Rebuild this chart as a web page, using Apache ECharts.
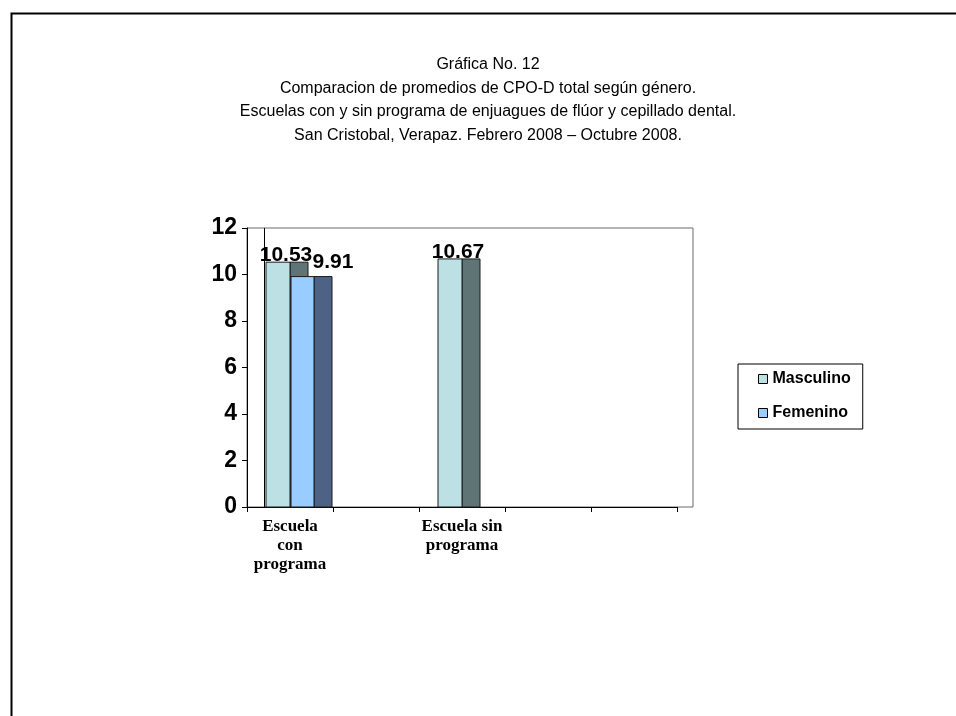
<!DOCTYPE html>
<html>
<head>
<meta charset="utf-8">
<script src="https://cdn.jsdelivr.net/npm/echarts@6/dist/echarts.min.js"></script>
<style>
  html, body { margin: 0; padding: 0; background: #fff; }
  #chart { width: 956px; height: 716px; }
</style>
</head>
<body>
<div id="chart"></div>
<script>
// Category labels (line breaks as printed under the axis)
const categories = ['Escuela\ncon\nprograma', '', 'Escuela sin\nprograma', '', ''];
// Average CPO-D per gender and school
const masculino = [10.53, null, 10.67, null, null];
const femenino = [9.91, null, null, null, null];
// Value axis ticks
const yTicks = { min: 0, max: 12, step: 2 };

const SANS = "'Liberation Sans', Arial, sans-serif";
const SERIF = "'Liberation Serif', 'Times New Roman', serif";

// Each gender is drawn as a flat bar with a darker "depth" face to its right.
const looks = {
  Masculino: { front: '#BCE0E3', side: '#5F7474', start: -24 / 86, fw: 24 / 86, sw: 18 / 86, lx: -4 / 86, ly: 4 },
  Femenino:  { front: '#99CCFF', side: '#4D6284', start: 1 / 86, fw: 23 / 86, sw: 18 / 86, lx: 43 / 86, ly: -4 }
};

function toPoints(arr) {
  const out = [];
  arr.forEach(function (v, i) { if (v != null) out.push([i, v]); });
  return out;
}

function renderer(look) {
  return function (params, api) {
    const idx = api.value(0);
    const v = api.value(1);
    const band = api.size([1, 0])[0];
    const top = api.coord([idx, v]);
    const yBase = api.coord([idx, 0])[1];
    const x0 = top[0] + band * look.start;
    const fw = band * look.fw;
    const sw = band * look.sw;
    const h = yBase - top[1];
    return {
      type: 'group',
      children: [
        {
          type: 'rect',
          shape: { x: x0 + fw, y: top[1], width: sw, height: h },
          style: { fill: look.side, stroke: '#1a1a1a', lineWidth: 1 }
        },
        {
          type: 'rect',
          shape: { x: x0, y: top[1], width: fw, height: h },
          style: { fill: look.front, stroke: '#1a1a1a', lineWidth: 1 }
        },
        {
          type: 'text',
          z2: 10,
          style: {
            x: top[0] + band * look.lx,
            y: top[1] + look.ly,
            text: v.toFixed(2),
            align: 'center',
            verticalAlign: 'bottom',
            fill: '#000',
            font: 'bold 21px ' + SANS
          }
        }
      ]
    };
  };
}

const chart = echarts.init(document.getElementById('chart'), null, { renderer: 'canvas' });

const option = {
  backgroundColor: '#fff',
  animation: false,
  title: {
    text: 'Gráfica No. 12\nComparacion de promedios de CPO-D total según género.\nEscuelas con y sin programa de enjuagues de flúor y cepillado dental.\nSan Cristobal, Verapaz. Febrero 2008 – Octubre 2008.',
    left: 483,
    top: 48,
    textAlign: 'center',
    textStyle: {
      fontFamily: SANS,
      fontSize: 16,
      fontWeight: 'normal',
      color: '#000',
      lineHeight: 23.5
    }
  },
  legend: {
    orient: 'vertical',
    left: 738,
    top: 364,
    padding: [7, 12, 8, 20],
    itemWidth: 9,
    itemHeight: 9,
    itemGap: 18,
    borderColor: '#000',
    borderWidth: 1,
    backgroundColor: '#fff',
    textStyle: { fontFamily: SANS, fontSize: 16, fontWeight: 'bold', color: '#000' },
    data: [
      { name: 'Masculino', icon: 'rect', itemStyle: { color: looks.Masculino.front, borderColor: '#000', borderWidth: 1 } },
      { name: 'Femenino', icon: 'rect', itemStyle: { color: looks.Femenino.front, borderColor: '#000', borderWidth: 1 } }
    ]
  },
  grid: [
    { left: 247, top: 228, width: 430, height: 279 },
    { left: 247, top: 228, width: 446, height: 279, show: true, borderColor: '#6a6a6a', borderWidth: 1, backgroundColor: 'transparent', z: -1 }
  ],
  xAxis: [
    {
      type: 'category',
      gridIndex: 0,
      data: categories,
      boundaryGap: true,
      axisLine: { lineStyle: { color: '#000', width: 1 } },
      axisTick: { show: true, inside: false, length: 5, lineStyle: { color: '#000' } },
      axisLabel: {
        interval: 0,
        margin: 10,
        color: '#000',
        fontFamily: SERIF,
        fontSize: 17,
        fontWeight: 'bold',
        lineHeight: 19
      },
      splitLine: { show: false }
    },
    { type: 'value', gridIndex: 1, show: false }
  ],
  yAxis: [
    {
      type: 'value',
      gridIndex: 0,
      min: yTicks.min,
      max: yTicks.max,
      interval: yTicks.step,
      axisLine: { show: true, lineStyle: { color: '#000', width: 1 } },
      axisTick: { show: true, inside: false, length: 5, lineStyle: { color: '#000' } },
      axisLabel: { margin: 10, color: '#000', fontFamily: SANS, fontSize: 23, fontWeight: 'bold' },
      splitLine: { show: false }
    },
    { type: 'value', gridIndex: 1, show: false }
  ],
  series: [
    {
      name: 'Masculino',
      type: 'custom',
      xAxisIndex: 0,
      yAxisIndex: 0,
      itemStyle: { color: looks.Masculino.front },
      encode: { x: 0, y: 1 },
      data: toPoints(masculino),
      renderItem: renderer(looks.Masculino)
    },
    {
      name: 'Femenino',
      type: 'custom',
      xAxisIndex: 0,
      yAxisIndex: 0,
      itemStyle: { color: looks.Femenino.front },
      encode: { x: 0, y: 1 },
      data: toPoints(femenino),
      renderItem: renderer(looks.Femenino)
    }
  ]
};

chart.setOption(option);

// Page frame and the thin vertical rule left of the first group
const c0 = chart.convertToPixel({ xAxisIndex: 0 }, 0);
const c1 = chart.convertToPixel({ xAxisIndex: 0 }, 1);
const band = c1 - c0;
const yTop = chart.convertToPixel({ yAxisIndex: 0 }, yTicks.max);
const yBot = chart.convertToPixel({ yAxisIndex: 0 }, yTicks.min);
const ruleX = Math.round(c0 - band * 0.30) + 0.5;

chart.setOption({
  graphic: [
    {
      type: 'rect',
      left: 9, top: 11,
      shape: { x: 0, y: 0, width: 1000, height: 1000 },
      style: { fill: 'none', stroke: '#000', lineWidth: 2 },
      silent: true
    },
    {
      type: 'line',
      shape: { x1: ruleX, y1: yTop, x2: ruleX, y2: yBot },
      style: { stroke: '#000', lineWidth: 1 },
      z: 5,
      silent: true
    }
  ]
});
</script>
</body>
</html>
